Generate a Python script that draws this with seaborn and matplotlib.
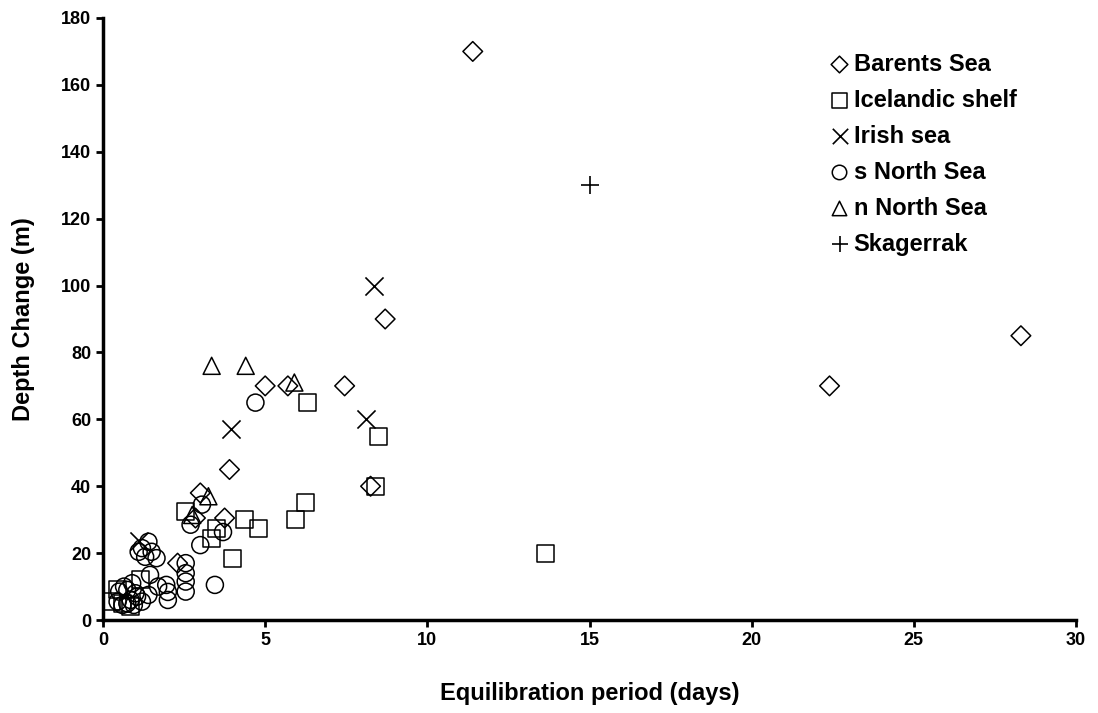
import pandas as pd
import numpy as np
import matplotlib.pyplot as plt
import seaborn as sns

# values (days, metres)
barents_x = [11.4, 28.3, 22.4, 8.7, 7.45, 5.0, 5.7, 3.9, 8.25, 3.0, 3.75, 2.85, 2.3]
barents_y = [170, 85, 70, 90, 70, 70, 70, 45, 40, 38, 30.5, 30.5, 17]

iceland_x = [13.65, 8.5, 6.3, 8.4, 6.25, 5.95, 4.35, 4.8, 3.5, 3.35, 4.0, 2.55, 1.15, 0.45, 0.25, 0.85, 0.6]
iceland_y = [20, 55, 65, 40, 35, 30, 30, 27.5, 27.5, 24.5, 18.5, 32.3, 12, 9, 5.5, 4, 5]

irish_x = [8.35, 8.1, 3.95, 1.1]
irish_y = [100, 60, 57, 23.5]

snorth_x = [4.7, 3.05, 2.7, 3.7, 3.0, 1.4, 1.2, 1.5, 1.65, 1.3, 1.1, 2.55, 2.55, 2.55, 2.55,
            3.45, 2.0, 2.0, 1.95, 1.45, 1.7, 1.4, 0.5, 0.75, 1.0, 0.45, 0.75, 0.95, 1.2,
            0.65, 0.9, 1.05, 0.6, 0.85]
snorth_y = [65, 34.5, 28.5, 26.3, 22.4, 23.4, 21.5, 20.4, 18.5, 18.9, 20.4, 17, 14, 11.5, 8.5,
            10.5, 8.4, 6, 10.5, 13.5, 10, 7.5, 8.5, 9, 8, 5.5, 5, 4.5, 5.5,
            10, 11, 7, 4.5, 6]

nnorth_x = [3.35, 4.4, 5.9, 3.25, 2.75]
nnorth_y = [76, 76, 71, 37, 31.4]

skag_x = [15.0]
skag_y = [130]

sites = ["Barents Sea", "Icelandic shelf", "Irish sea", "s North Sea", "n North Sea", "Skagerrak"]
markers = ["D", "s", "x", "o", "^", "+"]


def get_data() -> pd.DataFrame:
    parts = []
    for name, xs, ys in zip(sites,
                            [barents_x, iceland_x, irish_x, snorth_x, nnorth_x, skag_x],
                            [barents_y, iceland_y, irish_y, snorth_y, nnorth_y, skag_y]):
        parts.append(pd.DataFrame({"days": xs, "depth": ys, "site": name}))
    return pd.concat(parts, ignore_index=True)


df = get_data()

sns.set_style("white")
plt.rcParams["font.family"] = ["Liberation Sans", "DejaVu Sans"]
plt.rcParams["font.weight"] = "bold"
plt.rcParams["text.color"] = "black"
plt.rcParams["axes.labelcolor"] = "black"
plt.rcParams["xtick.color"] = "black"
plt.rcParams["ytick.color"] = "black"

fig = plt.figure(figsize=(10.98, 7.13), dpi=100)
ax = fig.add_axes([0.0938, 0.1304, 0.8862, 0.8444])

sizes = {"D": 100, "s": 150, "x": 170, "o": 150, "^": 150, "+": 170}
for name, m in zip(sites, markers):
    sub = df[df["site"] == name]
    if m in ("x", "+"):
        sns.scatterplot(data=sub, x="days", y="depth", marker=m, color="black",
                        s=sizes[m], linewidth=1.2, ax=ax, label=name)
    else:
        sns.scatterplot(data=sub, x="days", y="depth", marker=m, facecolor="none",
                        edgecolor="black", s=sizes[m], linewidth=1.1, ax=ax, label=name)

ax.set_xlim(0, 30)
ax.set_ylim(0, 180)
ax.set_xticks(range(0, 31, 5))
ax.set_yticks(range(0, 181, 20))
ax.set_xlabel("Equilibration period (days)", fontsize=17, fontweight="bold", labelpad=24)
ax.set_ylabel("Depth Change (m)", fontsize=17, fontweight="bold", labelpad=19)
ax.tick_params(axis="both", labelsize=13, direction="out", length=5, width=2,
               left=True, bottom=True)
for lab in ax.get_xticklabels() + ax.get_yticklabels():
    lab.set_fontweight("bold")

sns.despine(ax=ax)
for side in ("left", "bottom"):
    ax.spines[side].set_linewidth(2.5)
    ax.spines[side].set_color("black")

leg = ax.legend(loc="upper left", bbox_to_anchor=(0.7375, 0.958), frameon=False,
                handlelength=0.8, handletextpad=0.2, labelspacing=0.55,
                fontsize=17, borderaxespad=0, markerscale=0.85)
for t in leg.get_texts():
    t.set_fontweight("bold")

fig.savefig("out.png", dpi=100)
